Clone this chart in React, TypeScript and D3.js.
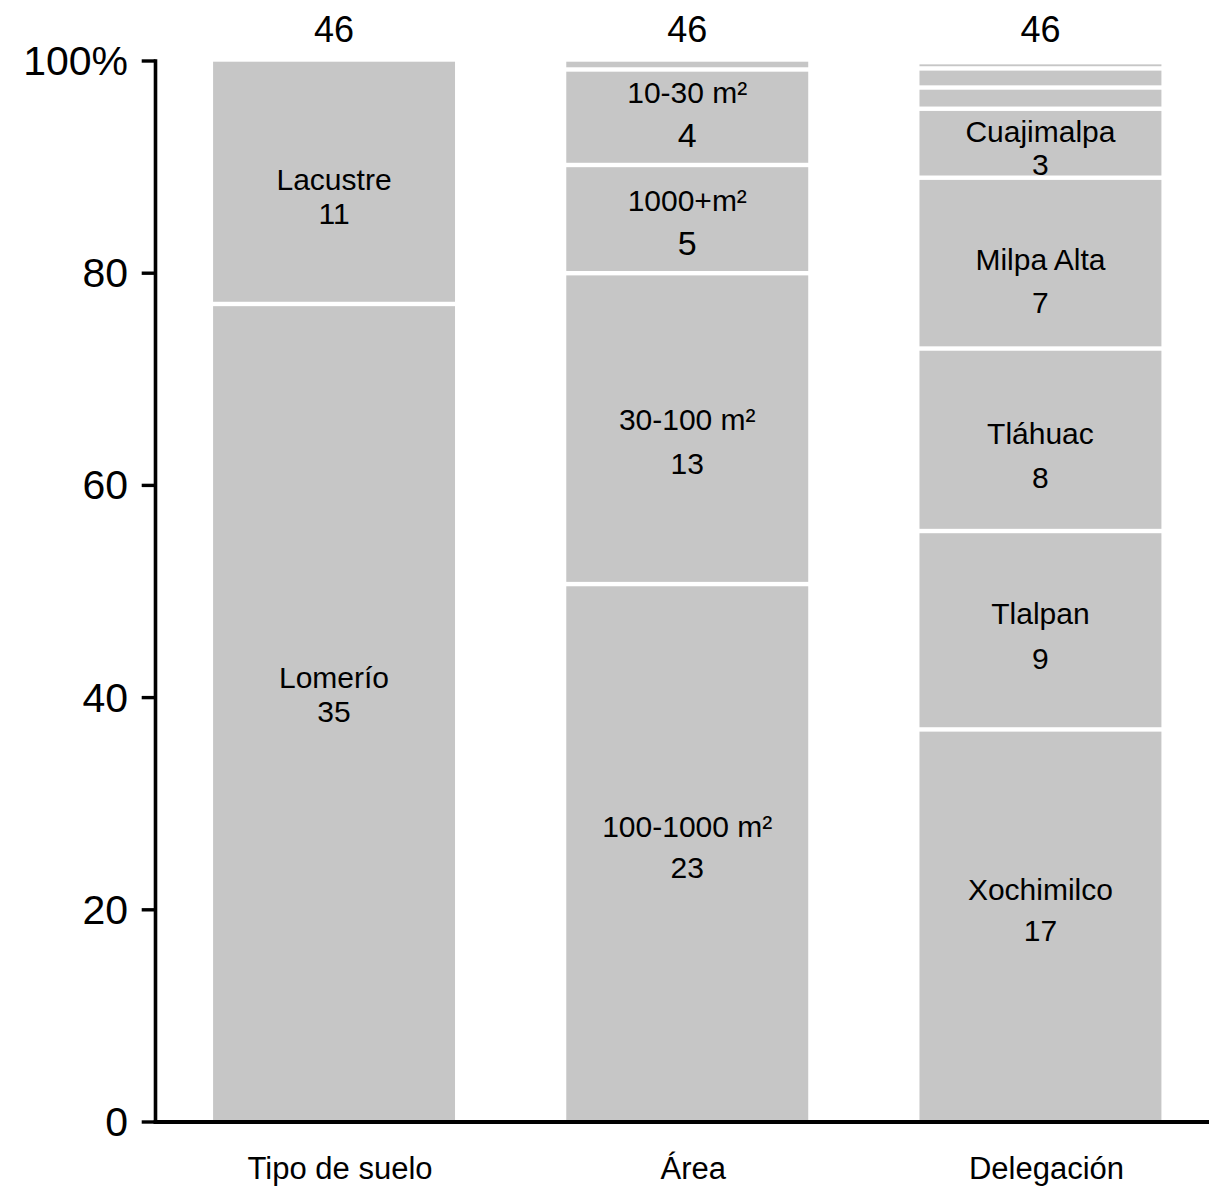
import React from "react";
import * as d3 from "d3";

const categories = ["Tipo de suelo", "Área", "Delegación"];
const totals = [46, 46, 46];

const sueloNames = ["Lomerío", "Lacustre"];
const sueloPct = [77.1, 22.9];
const sueloCounts = ["35", "11"];

const areaNames = ["100-1000 m²", "30-100 m²", "1000+m²", "10-30 m²", ""];
const areaPct = [50.7, 29.3, 10.2, 9.0, 0.8];
const areaCounts = ["23", "13", "5", "4", ""];

const delegNames = ["Xochimilco", "Tlalpan", "Tláhuac", "Milpa Alta", "Cuajimalpa", "", "", ""];
const delegPct = [37.0, 18.7, 17.2, 16.1, 6.5, 2.0, 1.8, 0.45];
const delegCounts = ["17", "9", "8", "7", "3", "", "", ""];

const yTicks = [0, 20, 40, 60, 80, 100];

// label layout (anchor in % units, line gap in px, count font size)
const sueloLabelAt = [41.95, 88.85];
const sueloGap = [34, 34];
const areaLabelAt = [27.9, 66.3, 86.9, 97.1, 0];
const areaGap = [41, 44, 43, 43, 0];
const areaCountSize = [30, 30, 34, 34, 30];
const delegLabelAt = [22.0, 48.0, 64.9, 81.3, 93.4, 0, 0, 0];
const delegGap = [41, 45, 44, 43, 33, 0, 0, 0];

const W = 1209;
const H = 1188;
const FONT = "'Liberation Sans', Arial, Helvetica, sans-serif";
const BAR = "#c6c6c6";
const GAP = 4.4;

type Stack = {
  names: string[];
  pct: number[];
  counts: string[];
  labelAt: number[];
  gap: number[];
  countSize: number[];
};

const stacks: Stack[] = [
  { names: sueloNames, pct: sueloPct, counts: sueloCounts, labelAt: sueloLabelAt, gap: sueloGap, countSize: [30, 30] },
  { names: areaNames, pct: areaPct, counts: areaCounts, labelAt: areaLabelAt, gap: areaGap, countSize: areaCountSize },
  { names: delegNames, pct: delegPct, counts: delegCounts, labelAt: delegLabelAt, gap: delegGap, countSize: delegPct.map(() => 30) },
];

export default function App() {
  const x = d3
    .scaleBand<string>()
    .domain(categories)
    .range([155.5, 1219])
    .paddingInner(0.315)
    .paddingOuter(0.163);
  const y = d3.scaleLinear().domain([0, 100]).range([1122, 61]);
  const axisX = 155.5;
  const bw = x.bandwidth();

  return (
    <svg
      width={W}
      height={H}
      style={{ position: "absolute", left: 0, top: 0, background: "#fff" }}
      fontFamily={FONT}
    >
      {stacks.map((s, i) => {
        const cat = categories[i];
        const x0 = x(cat) as number;
        const cx = x0 + bw / 2;
        const cum = d3.cumsum(s.pct);
        return (
          <g key={cat}>
            {s.pct.map((v, j) => {
              const lo = j === 0 ? 0 : cum[j - 1];
              const hi = cum[j];
              const yBottom = j === 0 ? y(0) : y(lo) - GAP / 2;
              const yTop = j === s.pct.length - 1 ? y(hi) + 0.7 : y(hi) + GAP / 2;
              return (
                <rect
                  key={j}
                  x={x0}
                  y={yTop}
                  width={bw}
                  height={Math.max(0, yBottom - yTop)}
                  fill={BAR}
                />
              );
            })}
            {s.names.map((n, j) =>
              n ? (
                <text
                  key={"l" + j}
                  textAnchor="middle"
                  dominantBaseline="central"
                  fontSize={30}
                  fill="#000"
                >
                  <tspan x={cx} y={y(s.labelAt[j])}>
                    {n}
                  </tspan>
                  <tspan x={cx} y={y(s.labelAt[j]) + s.gap[j]} fontSize={s.countSize[j]}>
                    {s.counts[j]}
                  </tspan>
                </text>
              ) : null
            )}
            <text x={cx} y={29} textAnchor="middle" dominantBaseline="central" fontSize={36}>
              {totals[i]}
            </text>
            <text x={cx + 6} y={1168} textAnchor="middle" dominantBaseline="central" fontSize={31}>
              {cat}
            </text>
          </g>
        );
      })}
      {/* axes */}
      <line x1={axisX} x2={axisX} y1={y(100) - 1.7} y2={y(0) + 2} stroke="#000" strokeWidth={3.6} />
      <line x1={axisX - 1.8} x2={W} y1={y(0)} y2={y(0)} stroke="#000" strokeWidth={4} />
      {yTicks.map((t) => (
        <g key={t}>
          <line x1={141.7} x2={axisX} y1={y(t)} y2={y(t)} stroke="#000" strokeWidth={3.4} />
          <text x={128} y={y(t)} textAnchor="end" dominantBaseline="central" fontSize={41}>
            {t === 100 ? "100%" : t}
          </text>
        </g>
      ))}
    </svg>
  );
}
